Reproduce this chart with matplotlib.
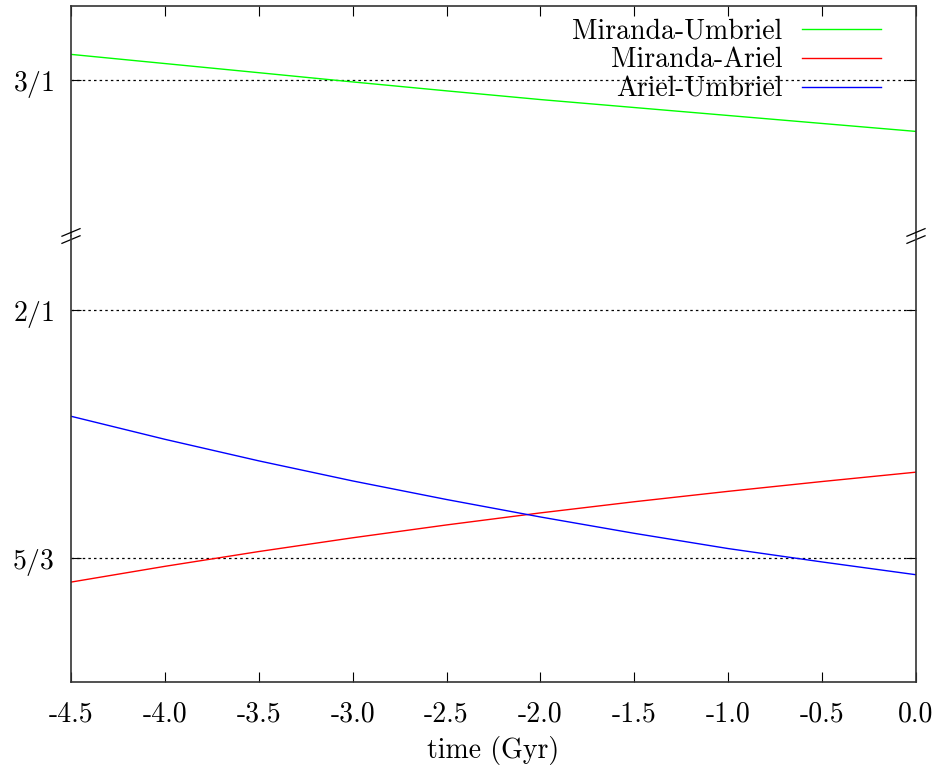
import matplotlib
matplotlib.use("Agg")
import matplotlib.pyplot as plt

plt.rcParams['font.family'] = ['cmr10', 'DejaVu Serif']
plt.rcParams['mathtext.fontset'] = 'cm'
plt.rcParams['axes.unicode_minus'] = False

# time (Gyr) and period ratios
time = [-4.5, -4.0, -3.5, -3.0, -2.5, -2.0, -1.5, -1.0, -0.5, 0.0]
miranda_umbriel = [3.035, 3.0227, 3.0104, 2.998, 2.986, 2.9743, 2.9636, 2.9529, 2.9422, 2.9315]
miranda_ariel = [1.6344, 1.6556, 1.6755, 1.6940, 1.7113, 1.7275, 1.7425, 1.7565, 1.7697, 1.7823]
ariel_umbriel = [1.8575, 1.8265, 1.7975, 1.7705, 1.7455, 1.7220, 1.7000, 1.6795, 1.6615, 1.6443]

resonances = [3.0, 2.0, 5.0 / 3.0]
res_labels = [r'$3/1$', r'$2/1$', r'$5/3$']
xticks = [-4.5, -4.0, -3.5, -3.0, -2.5, -2.0, -1.5, -1.0, -0.5, 0.0]

W, H = 936, 769
fig = plt.figure(figsize=(W / 100, H / 100), dpi=100)
left, right = 71 / W, 916 / W
top_px, brk_px, bot_px = 6, 236, 682
ax_top = fig.add_axes([left, 1 - brk_px / H, right - left, (brk_px - top_px) / H])
ax_bot = fig.add_axes([left, 1 - bot_px / H, right - left, (bot_px - brk_px) / H])

fs = 20
for ax in (ax_top, ax_bot):
    ax.plot(time, miranda_umbriel, color='#00ff00', lw=1.0, label='Miranda-Umbriel')
    ax.plot(time, miranda_ariel, color='#ff0000', lw=1.0, label='Miranda-Ariel')
    ax.plot(time, ariel_umbriel, color='#0000ff', lw=1.0, label='Ariel-Umbriel')
    for r in resonances:
        ax.axhline(r, color='black', lw=0.9, ls=(0, (2, 2.5)), zorder=0)
    ax.set_xlim(-4.5, 0.0)
    ax.set_xticks(xticks)
    ax.set_yticks(resonances)
    ax.set_yticklabels(res_labels, fontsize=fs)
    ax.tick_params(direction='in', length=7, width=0.8, top=True, right=True, labelsize=fs)
    ax.tick_params(axis='y', pad=12)
    ax.tick_params(axis='x', pad=14)
    for s in ax.spines.values():
        s.set_linewidth(1.2)
        s.set_color('#333333')

ax_top.set_ylim(2.791, 3.1)
ax_bot.set_ylim(1.5, 2.1)
ax_top.spines['bottom'].set_visible(False)
ax_bot.spines['top'].set_visible(False)
ax_top.tick_params(bottom=False, labelbottom=False)
ax_bot.tick_params(top=False)
ax_bot.set_xticklabels([f'{v:.1f}' for v in xticks], fontsize=fs)
ax_bot.set_xlabel('time (Gyr)', fontsize=fs, labelpad=6)

# break marks on both spines
for xa in (0.0, 1.0):
    for dy in (-0.008, 0.008):
        ax_bot.plot([xa - 0.0107, xa + 0.0107], [1 + dy - 0.0085, 1 + dy + 0.0085],
                    transform=ax_bot.transAxes, color='black', lw=0.9, clip_on=False)

leg = ax_top.legend(loc='upper right', frameon=False, markerfirst=False, fontsize=fs,
                    handlelength=2.85, handletextpad=0.7, labelspacing=0.1,
                    borderpad=0.0, borderaxespad=0.0, bbox_to_anchor=(0.9586, 0.948))

fig.savefig('out.png', dpi=100)
